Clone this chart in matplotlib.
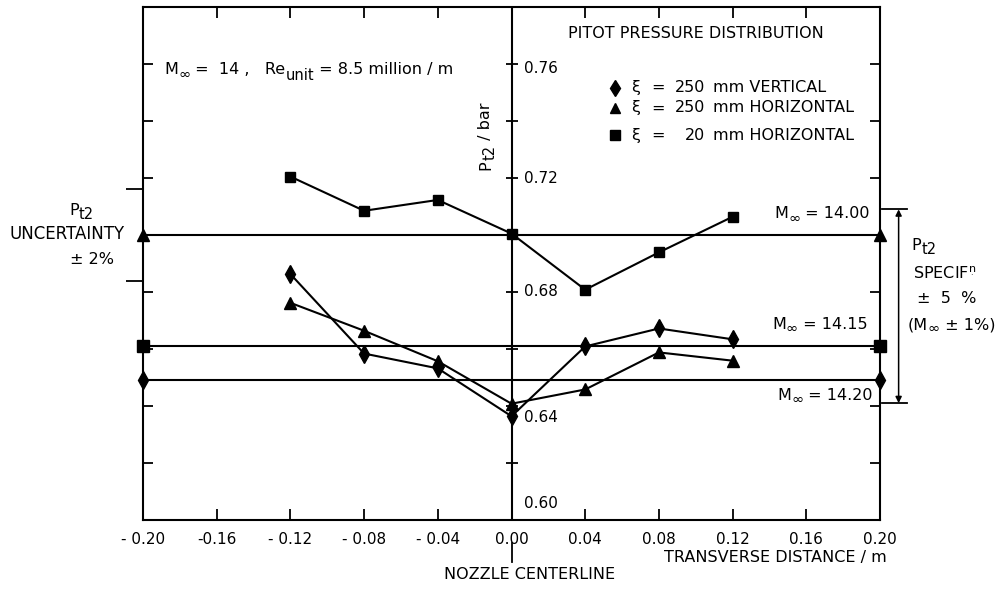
import numpy as np
import matplotlib.pyplot as plt

plt.rcParams['font.family'] = ['DejaVu Sans']
plt.rcParams['mathtext.default'] = 'regular'

# measured pitot pressures (bar) across the nozzle exit
x_pos = [-0.12, -0.08, -0.04, 0.00, 0.04, 0.08, 0.12]
p_250_vert = [0.6863, 0.6584, 0.6532, 0.6364, 0.6609, 0.6672, 0.6634]
p_250_horiz = [0.6762, 0.6664, 0.6557, 0.6408, 0.6458, 0.6588, 0.6559]
p_20_horiz = [0.7205, 0.7085, 0.7123, 0.7005, 0.6808, 0.6939, 0.7064]

# reference levels for free stream Mach number
mach_levels = [0.700, 0.661, 0.649]
mach_names = ['14.00', '14.15', '14.20']
mach_markers = ['^', 's', 'd']

spec_band = [0.641, 0.709]      # Pt2 specification +-5 %
uncert_band = [0.684, 0.716]    # Pt2 uncertainty +-2 %

x_ticks = [-0.20, -0.16, -0.12, -0.08, -0.04, 0.00, 0.04, 0.08, 0.12, 0.16, 0.20]
x_tick_labels = ['- 0.20', '-0.16', '- 0.12', '- 0.08', '- 0.04', '0.00',
                 '0.04', '0.08', '0.12', '0.16', '0.20']
y_ticks = [0.62, 0.64, 0.66, 0.68, 0.70, 0.72, 0.74, 0.76]
y_tick_labels = ['0.76', '0.72', '0.68', '0.64', '0.60']

legend_rows = [('d', '250', 'mm VERTICAL'),
               ('^', '250', 'mm HORIZONTAL'),
               ('s', '20', 'mm HORIZONTAL')]

fs = 11.5
sub = 10.5
fig = plt.figure(figsize=(10.07, 5.94), dpi=100)
ax = fig.add_axes([0.142, 0.1246, 0.7319, 0.8636])
ax.set_xlim(-0.20, 0.20)
ax.set_ylim(0.60, 0.78)
rend = fig.canvas.get_renderer()


# text built from pieces so subscripts keep a readable size
# parts: (text, size, drop in points)
def chain(x, y, parts, ha='left', rot=0):
    widths = []
    for p in parts:
        t = ax.text(0, 0, p[0], fontsize=p[1])
        widths.append(t.get_window_extent(rend).width * 72 / fig.dpi)
        t.remove()
    total = sum(widths)
    a = {'left': 0, 'center': -total / 2, 'right': -total}[ha]
    for p, w in zip(parts, widths):
        d = 4 + p[2]
        off = (a, -d) if rot == 0 else (d, a)
        ax.annotate(p[0], xy=(x, y), xytext=off, textcoords='offset points',
                    fontsize=p[1], rotation=rot, rotation_mode='anchor',
                    ha='left', va='baseline', annotation_clip=False)
        a += w


for s in ax.spines.values():
    s.set_linewidth(1.5)

# horizontal Mach lines with markers on the frame
for lev, mk in zip(mach_levels, mach_markers):
    ax.axhline(lev, color='k', lw=1.5, zorder=2)
    ax.plot([-0.20, 0.20], [lev, lev], ls='none', marker=mk, ms=8 if mk != 'd' else 9,
            color='k', clip_on=False, zorder=5)

# nozzle centerline as inner y axis
ax.axvline(0, color='k', lw=1.5, zorder=2)
ax.plot(np.zeros(len(y_ticks)), y_ticks, ls='none', marker='_', ms=9, mew=1.3, color='k')

# data series
ax.plot(x_pos, p_250_vert, color='k', lw=1.5, marker='d', ms=9, zorder=4)
ax.plot(x_pos, p_250_horiz, color='k', lw=1.5, marker='^', ms=8, zorder=4)
ax.plot(x_pos, p_20_horiz, color='k', lw=1.5, marker='s', ms=7, zorder=4)

# ticks
ax.set_xticks(x_ticks)
ax.set_xticklabels(x_tick_labels)
ax.tick_params(axis='x', which='major', direction='in', top=True, bottom=True,
               length=8, width=1.3, labelsize=11, pad=9)
ax.set_yticks(y_ticks)
ax.set_yticklabels([])
ax.tick_params(axis='y', which='major', direction='in', left=True, right=True,
               length=7, width=1.3)
ax.set_yticks(uncert_band, minor=True)
ax.tick_params(axis='y', which='minor', direction='out', left=True, right=False,
               length=12, width=1.3)

for lab, yy in zip(y_tick_labels, [0.7585, 0.72, 0.68, 0.6358, 0.6059]):
    ax.text(0.007, yy, lab, ha='left', va='center', fontsize=11)

chain(-0.0147, 0.7346, [('P', fs, 0), ('t2', sub, 3), (' / bar', fs, 0)], ha='center', rot=90)

# titles
ax.text(0.10, 0.7708, 'PITOT PRESSURE DISTRIBUTION', ha='center', va='center', fontsize=fs)
chain(-0.1884, 0.7583, [('M', fs, 0), ('∞', sub, 3), (' =  14 ,   Re', fs, 0),
                        ('unit', sub, 4), (' = 8.5 million / m', fs, 0)])

for (mk, num, rest), yy in zip(legend_rows, [0.7517, 0.7446, 0.7350]):
    ax.plot([0.056], [yy], marker=mk, ms=7 if mk != 'd' else 8, color='k', ls='none')
    ax.text(0.0673, yy, 'ξ', ha='center', va='center', fontsize=fs)
    ax.text(0.0795, yy, '=', ha='center', va='center', fontsize=fs)
    ax.text(0.1053, yy, num, ha='right', va='center', fontsize=fs)
    ax.text(0.1091, yy, rest, ha='left', va='center', fontsize=fs)

# Mach labels
for name, xx, yy in zip(mach_names, [0.1944, 0.1933, 0.196], [0.7078, 0.6689, 0.6442]):
    chain(xx, yy, [('M', fs, 0), ('∞', sub, 3), (' = ' + name, fs, 0)], ha='right')

# left uncertainty note
chain(-0.2334, 0.7089, [('P', fs, 0), ('t2', sub, 3)], ha='center')
ax.text(-0.2410, 0.7002, 'UNCERTAINTY', ha='center', va='center', fontsize=12, clip_on=False)
ax.text(-0.2275, 0.6915, '± 2%', ha='center', va='center', fontsize=fs, clip_on=False)

# right specification bracket
for yy in spec_band:
    ax.plot([0.2009, 0.2144], [yy, yy], color='k', lw=1.3, clip_on=False)
ax.annotate('', xy=(0.2101, spec_band[0]), xytext=(0.2101, spec_band[1]),
            arrowprops=dict(arrowstyle='<|-|>', color='k', lw=1.1, mutation_scale=9,
                            shrinkA=0, shrinkB=0), annotation_clip=False)
chain(0.2172, 0.6967, [('P', fs, 0), ('t2', sub, 3)])
ax.text(0.2177, 0.6863, r'SPECIF$^{\underset{.}{n}}$', ha='left', va='center', fontsize=fs)
ax.text(0.2199, 0.6776, '±  5  %', ha='left', va='center', fontsize=fs)
chain(0.2150, 0.6689, [('(M', fs, 0), ('∞', sub, 3), (' ± 1%)', fs, 0)])

# axis titles below
ax.text(0.2036, 0.5868, 'TRANSVERSE DISTANCE / m', ha='right', va='center', fontsize=fs, clip_on=False)
ax.plot([0, 0], [0.5920, 0.5854], color='k', lw=1.3, clip_on=False)
ax.text(-0.0369, 0.5809, 'NOZZLE CENTERLINE', ha='left', va='center', fontsize=fs, clip_on=False)

fig.savefig('out.png', dpi=100)
